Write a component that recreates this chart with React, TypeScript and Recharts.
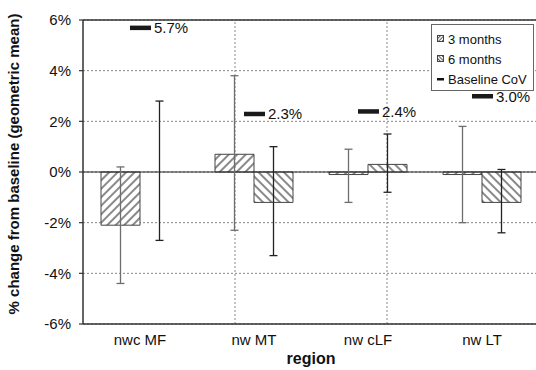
import React from 'react';
import {
  ComposedChart,
  Bar,
  Line,
  XAxis,
  YAxis,
  CartesianGrid,
  ReferenceLine,
  ErrorBar,
  Legend,
  Cell,
} from 'recharts';

const regions = ['nwc MF', 'nw MT', 'nw cLF', 'nw LT'];
const threeMonths = [-2.1, 0.7, -0.1, -0.1];
const threeMonthsLow = [-4.4, -2.3, -1.2, -2.0];
const threeMonthsHigh = [0.2, 3.8, 0.9, 1.8];
const sixMonths = [0.01, -1.2, 0.3, -1.2];
const sixMonthsLow = [-2.7, -3.3, -0.8, -2.4];
const sixMonthsHigh = [2.8, 1.0, 1.5, 0.1];
const baselineCoV = [5.7, 2.3, 2.4, 3.0];
const yTicks = [-6, -4, -2, 0, 2, 4, 6];
const regionBoundaries = [1, 2, 3];

const data = regions.map((region, i) => ({
  region,
  m3: threeMonths[i],
  m3Err: [threeMonths[i] - threeMonthsLow[i], threeMonthsHigh[i] - threeMonths[i]],
  m6: sixMonths[i],
  m6Err: [sixMonths[i] - sixMonthsLow[i], sixMonthsHigh[i] - sixMonths[i]],
  cov: baselineCoV[i],
}));

const FONT = '"Liberation Sans", Arial, sans-serif';

const CovDot = (props: any) => {
  const { cx, cy, value, index } = props;
  if (cx == null || cy == null) return <g key={`d${index}`} />;
  return (
    <g key={`d${index}`}>
      <rect x={cx - 10} y={cy - 2} width={21} height={4.5} fill="#1a1a1a" />
      <text x={cx + 14} y={cy} dominantBaseline="central" fontSize={15} fontFamily={FONT} fill="#111">
        {`${Number(value).toFixed(1)}%`}
      </text>
    </g>
  );
};

const LegendContent = (props: any) => {
  const payload = props.payload || [];
  return (
    <div
      style={{
        border: '1px solid #666',
        background: '#fff',
        padding: '4px 4px 1px 4px',
        fontFamily: FONT,
        fontSize: 13,
        color: '#111',
        boxSizing: 'border-box',
        width: 103,
      }}
    >
      {payload.map((p: any, i: number) => {
        let icon;
        if (p.dataKey === 'm3' || p.dataKey === 'm6') {
          icon = (
            <svg width={8} height={8} style={{ display: 'block' }}>
              <rect x={0.5} y={0.5} width={6} height={6} fill={`url(#${p.dataKey === 'm3' ? 'hatch3s' : 'hatch6s'})`} stroke="#444" strokeWidth={1} />
            </svg>
          );
        } else {
          icon = (
            <svg width={8} height={8} style={{ display: 'block' }}>
              <rect x={0} y={3} width={7} height={2.5} fill="#111" />
            </svg>
          );
        }
        return (
          <div key={i} style={{ display: 'flex', alignItems: 'center', height: 20, whiteSpace: 'nowrap' }}>
            <span style={{ width: 11, display: 'inline-block', paddingLeft: 1 }}>{icon}</span>
            <span>{p.value}</span>
          </div>
        );
      })}
    </div>
  );
};

const YLabel = (props: any) => {
  const vb = props.viewBox || {};
  const cx = vb.x + 13;
  const cy = vb.y + vb.height / 2 - 8;
  return (
    <text
      x={cx}
      y={cy}
      transform={`rotate(-90 ${cx} ${cy})`}
      textAnchor="middle"
      dominantBaseline="central"
      fontSize={15}
      fontWeight="bold"
      fontFamily={FONT}
      fill="#111"
    >
      % change from baseline (geometric mean)
    </text>
  );
};

const XLabel = (props: any) => {
  const vb = props.viewBox || {};
  const cx = vb.x + vb.width / 2;
  const cy = vb.y + 34;
  return (
    <text x={cx} y={cy} textAnchor="middle" dominantBaseline="central" fontSize={16} fontWeight="bold" fontFamily={FONT} fill="#111">
      region
    </text>
  );
};

export default function App() {
  return (
    <div style={{ position: 'absolute', left: 0, top: 0, width: 536, height: 370, overflow: 'hidden', background: '#fff' }}>
      <svg width={0} height={0} style={{ position: 'absolute' }}>
        <defs>
          <pattern id="hatch3" patternUnits="userSpaceOnUse" width={6} height={6} patternTransform="rotate(45)">
            <rect width={6} height={6} fill="#fff" />
            <line x1={1} y1={0} x2={1} y2={6} stroke="#8a8a8a" strokeWidth={2} />
          </pattern>
          <pattern id="hatch6" patternUnits="userSpaceOnUse" width={6} height={6} patternTransform="rotate(-45)">
            <rect width={6} height={6} fill="#fff" />
            <line x1={1} y1={0} x2={1} y2={6} stroke="#8a8a8a" strokeWidth={2} />
          </pattern>
          <pattern id="hatch3s" patternUnits="userSpaceOnUse" width={2.5} height={2.5} patternTransform="rotate(45)">
            <rect width={2.5} height={2.5} fill="#fff" />
            <line x1={0.5} y1={0} x2={0.5} y2={2.5} stroke="#555" strokeWidth={1} />
          </pattern>
          <pattern id="hatch6s" patternUnits="userSpaceOnUse" width={2.5} height={2.5} patternTransform="rotate(-45)">
            <rect width={2.5} height={2.5} fill="#fff" />
            <line x1={0.5} y1={0} x2={0.5} y2={2.5} stroke="#555" strokeWidth={1} />
          </pattern>
        </defs>
      </svg>
      <ComposedChart
        width={545}
        height={370}
        data={data}
        margin={{ top: 20, right: 6, bottom: 0, left: 0 }}
        barCategoryGap={18}
        barGap={0}
      >
        <CartesianGrid vertical={false} stroke="#888" strokeDasharray="2 2" />
        <XAxis
          dataKey="region"
          height={46}
          tickLine={false}
          tickSize={0}
          tickMargin={10}
          axisLine={{ stroke: '#333', strokeWidth: 1.5 }}
          tick={{ fontSize: 15, fill: '#111', fontFamily: FONT }}
          label={<XLabel />}
        />
        <XAxis xAxisId="num" type="number" domain={[0, 4]} allowDataOverflow hide />
        <YAxis
          width={83}
          domain={[-6, 6]}
          ticks={yTicks}
          interval={0}
          tickSize={4}
          tickMargin={8}
          tickFormatter={(v: number) => `${v}%`}
          axisLine={{ stroke: '#333', strokeWidth: 1.5 }}
          tickLine={{ stroke: '#333', strokeWidth: 1.2 }}
          tick={{ fontSize: 15, fill: '#111', fontFamily: FONT }}
          label={<YLabel />}
        />
        {regionBoundaries.map((b) => (
          <ReferenceLine key={b} x={b} xAxisId="num" stroke="#888" strokeDasharray="2 2" />
        ))}
        <ReferenceLine y={6} stroke="#333" strokeWidth={1.5} />
        <ReferenceLine y={0} stroke="#222" strokeWidth={1.2} />
        <Bar dataKey="m3" name="3 months" fill="url(#hatch3)" stroke="#444" strokeWidth={1} isAnimationActive={false}>
          <ErrorBar dataKey="m3Err" width={4} stroke="#6e6e6e" strokeWidth={1.3} />
        </Bar>
        <Bar dataKey="m6" name="6 months" fill="url(#hatch6)" stroke="#444" strokeWidth={1} isAnimationActive={false}>
          {data.map((d, i) => (
            <Cell key={i} stroke={Math.abs(d.m6) < 0.05 ? 'none' : '#444'} />
          ))}
          <ErrorBar dataKey="m6Err" width={4} stroke="#222" strokeWidth={1.3} />
        </Bar>
        <Line
          dataKey="cov"
          name="Baseline CoV"
          stroke="none"
          strokeWidth={0}
          dot={<CovDot />}
          activeDot={false}
          isAnimationActive={false}
          legendType="rect"
        />
        <Legend
          layout="vertical"
          align="center"
          verticalAlign="middle"
          content={<LegendContent />}
          wrapperStyle={{ position: 'absolute', left: 431, top: 24, width: 103, height: 'auto', right: 'auto', bottom: 'auto' }}
        />
      </ComposedChart>
    </div>
  );
}
